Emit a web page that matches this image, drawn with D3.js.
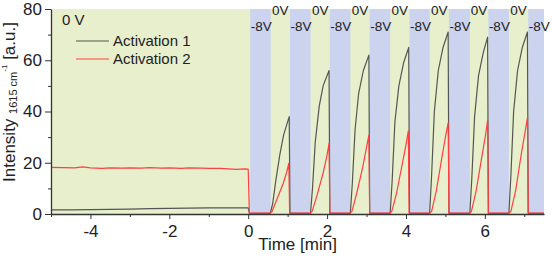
<!DOCTYPE html>
<html>
  <head>
    <meta charset="UTF-8">
    <style>
      body {
        margin: 0;
        background: #fff;
        font-family: 'Liberation Sans', Arial, sans-serif;
      }

      .tick text {
        font-size: 17px;
        fill: #222;
      }
    </style>
    <script src="https://d3js.org/d3.v7.min.js"></script>
  </head>

  <body>
    <svg id="chart"></svg>

    <script type="text/javascript">
      // voltage periods (minutes)
      let blueStarts = [0.05, 1.06, 2.07, 3.08, 4.09, 5.09, 6.09, 7.1]
      let blueEnds = [0.57, 1.58, 2.59, 3.6, 4.6, 5.62, 6.61, 7.6]

      let xTicks = [-4, -2, 0, 2, 4, 6]
      let xMinorTicks = [-5, -3, -1, 1, 3, 5, 7]
      let yTicks = [0, 20, 40, 60, 80]
      let yMinorTicks = [10, 30, 50, 70]

      let seriesNames = ['Activation 1', 'Activation 2']

      // [time, intensity]
      let activation1 = [
        [-5, 1.6], [-4.5, 1.6], [-4, 1.7], [-3.5, 1.8], [-3, 1.9], [-2.5, 2.1], [-2, 2.2],
        [-1.5, 2.3], [-1, 2.4], [-0.5, 2.4], [0, 2.4], [0.03, 0.3],
        [0.56, 0.3], [0.62, 4], [0.7, 13], [0.8, 23], [0.9, 31], [1.04, 38], [1.06, 0.3],
        [1.58, 0.3], [1.63, 10], [1.7, 28], [1.8, 42], [1.9, 50], [2.05, 56], [2.07, 0.3],
        [2.59, 0.3], [2.64, 12], [2.71, 33], [2.8, 47], [2.92, 56], [3.06, 62], [3.08, 0.3],
        [3.6, 0.3], [3.65, 13], [3.72, 36], [3.82, 50], [3.94, 59], [4.07, 65], [4.09, 0.3],
        [4.6, 0.3], [4.65, 15], [4.72, 40], [4.82, 56], [4.94, 65], [5.07, 71], [5.09, 0.3],
        [5.62, 0.3], [5.67, 14], [5.74, 38], [5.84, 54], [5.96, 63], [6.07, 69], [6.09, 0.3],
        [6.61, 0.3], [6.66, 15], [6.73, 40], [6.83, 56], [6.95, 65], [7.08, 71], [7.1, 0.3],
        [7.5, 0.3]
      ]

      let activation2 = [
        [-5, 18.2], [-4.7, 18.1], [-4.4, 18], [-4.2, 18.4], [-4, 18], [-3.7, 17.8], [-3.5, 18],
        [-3.2, 17.9], [-3, 18], [-2.7, 17.9], [-2.5, 18.1], [-2.2, 17.9], [-2, 18], [-1.7, 17.8],
        [-1.5, 18], [-1.2, 17.9], [-1, 17.8], [-0.7, 17.8], [-0.5, 17.6], [-0.3, 17.4],
        [-0.1, 17.6], [0, 17.5], [0.03, 0.4],
        [0.55, 0.4], [0.6, 0.8], [0.72, 5.5], [0.89, 12], [0.97, 16], [1.03, 19.8], [1.05, 0.4],
        [1.57, 0.4], [1.62, 1], [1.74, 7], [1.9, 16], [2, 23], [2.05, 27.6], [2.07, 0.4],
        [2.58, 0.4], [2.63, 1], [2.75, 8], [2.9, 18], [3, 26], [3.06, 30.8], [3.08, 0.4],
        [3.59, 0.4], [3.64, 1], [3.76, 8], [3.9, 19], [4, 27], [4.06, 32.4], [4.08, 0.4],
        [4.6, 0.4], [4.65, 1], [4.77, 9], [4.9, 21], [5, 30], [5.07, 35.6], [5.09, 0.4],
        [5.61, 0.4], [5.66, 1], [5.78, 9], [5.92, 22], [6.02, 31], [6.07, 36.6], [6.09, 0.4],
        [6.61, 0.4], [6.66, 1], [6.78, 9], [6.92, 23], [7.02, 32], [7.08, 37.5], [7.1, 0.4],
        [7.5, 0.4]
      ]

      let seriesColors = ['#555555', '#ff4040']
      let greenColor = '#e7efcd'
      let blueColor = '#ccd3ef'

      function getConfig() {
        let width = 552
        let height = 262
        let margin = {top: 9, right: 8, bottom: 48, left: 51}
        let bodyWidth = width - margin.left - margin.right
        let bodyHeight = height - margin.top - margin.bottom

        let container = d3.select('#chart')
          .attr('width', width)
          .attr('height', height)

        return {width, height, margin, bodyWidth, bodyHeight, container}
      }

      function drawChart() {
        let {margin, bodyWidth, bodyHeight, container} = getConfig()

        let x = d3.scaleLinear().domain([-5, 7.5]).range([0, bodyWidth])
        let y = d3.scaleLinear().domain([0, 80]).range([bodyHeight, 0])

        let defs = container.append('defs')
        defs.append('clipPath')
          .attr('id', 'plot-clip')
          .append('rect')
            .attr('width', bodyWidth)
            .attr('height', bodyHeight)

        let body = container.append('g')
          .attr('transform', `translate(${margin.left}, ${margin.top})`)

        // background
        body.append('rect')
          .attr('width', bodyWidth)
          .attr('height', bodyHeight)
          .attr('fill', greenColor)

        let bands = body.append('g').attr('clip-path', 'url(#plot-clip)')
        bands.selectAll('rect')
          .data(blueStarts)
          .join('rect')
            .attr('x', d => x(d))
            .attr('y', 0)
            .attr('width', (d, i) => x(blueEnds[i]) - x(d))
            .attr('height', bodyHeight)
            .attr('fill', blueColor)

        // lines
        let line = d3.line()
          .x(d => x(d[0]))
          .y(d => y(d[1]))

        let lines = body.append('g').attr('clip-path', 'url(#plot-clip)')
        ;[activation1, activation2].forEach((series, i) => {
          lines.append('path')
            .datum(series)
            .attr('d', line)
            .attr('fill', 'none')
            .attr('stroke', seriesColors[i])
            .attr('stroke-width', 1.2)
            .attr('stroke-linejoin', 'round')
        })

        // voltage labels
        body.selectAll('.neg-label')
          .data(blueStarts)
          .join('text')
            .attr('class', 'neg-label')
            .attr('x', d => x(d) + 11)
            .attr('y', 22)
            .attr('text-anchor', 'middle')
            .attr('font-size', 13.5)
            .attr('fill', '#222')
            .text('-8V')

        body.selectAll('.zero-label')
          .data(blueEnds.slice(0, -1))
          .join('text')
            .attr('class', 'zero-label')
            .attr('x', (d, i) => (x(d) + x(blueStarts[i + 1])) / 2)
            .attr('y', 6)
            .attr('text-anchor', 'middle')
            .attr('font-size', 13.5)
            .attr('fill', '#222')
            .text('0V')

        body.append('text')
          .attr('x', 11)
          .attr('y', 16)
          .attr('font-size', 15)
          .attr('fill', '#222')
          .text('0 V')

        // legend
        let legend = body.append('g')
          .attr('transform', 'translate(25, 32)')

        seriesNames.forEach((name, i) => {
          let row = legend.append('g')
            .attr('transform', `translate(0, ${i * 18})`)
          row.append('line')
            .attr('x1', 0)
            .attr('x2', 33)
            .attr('stroke', seriesColors[i])
            .attr('stroke-width', 1.2)
          row.append('text')
            .attr('x', 37)
            .attr('y', 5)
            .attr('font-size', 15)
            .attr('fill', '#222')
            .text(name)
        })

        // axes
        let xAxis = body.append('g')
          .attr('transform', `translate(0, ${bodyHeight})`)

        xAxis.append('g')
          .call(d3.axisBottom(x).tickValues(xMinorTicks).tickSize(3).tickFormat(''))
          .call(g => g.select('.domain').remove())
          .selectAll('line').attr('stroke', '#333')

        xAxis.append('g')
          .call(d3.axisBottom(x).tickValues(xTicks).tickSize(5).tickPadding(6)
            .tickSizeOuter(0).tickFormat(d => String(d)))
          .call(g => g.select('.domain').attr('stroke', '#333').attr('stroke-width', 1.3))
          .selectAll('.tick line').attr('stroke', '#333')

        let yAxis = body.append('g')

        yAxis.append('g')
          .call(d3.axisLeft(y).tickValues(yMinorTicks).tickSize(3).tickFormat(''))
          .call(g => g.select('.domain').remove())
          .selectAll('line').attr('stroke', '#333')

        yAxis.append('g')
          .call(d3.axisLeft(y).tickValues(yTicks).tickSize(6).tickPadding(3)
            .tickSizeOuter(0).tickFormat(d => String(d)))
          .call(g => g.select('.domain').attr('stroke', '#333').attr('stroke-width', 1.3))
          .selectAll('.tick line').attr('stroke', '#333')

        container.selectAll('.tick text').attr('font-family', null).attr('font-size', null)

        // axis titles
        container.append('text')
          .attr('x', margin.left + bodyWidth / 2)
          .attr('y', 249.5)
          .attr('text-anchor', 'middle')
          .attr('font-size', 17)
          .attr('fill', '#222')
          .text('Time [min]')

        let yTitle = container.append('text')
          .attr('transform', 'translate(15, 102) rotate(-90)')
          .attr('text-anchor', 'middle')
          .attr('font-size', 17)
          .attr('fill', '#222')

        yTitle.append('tspan').text('Intensity ')
        yTitle.append('tspan').attr('font-size', 11).attr('dy', 2).text('1615 cm')
        yTitle.append('tspan').attr('font-size', 8).attr('dy', -10).text('-1')
        yTitle.append('tspan').attr('dy', 8).text(' [a.u.]')
      }

      drawChart()
    </script>
  </body>
</html>
